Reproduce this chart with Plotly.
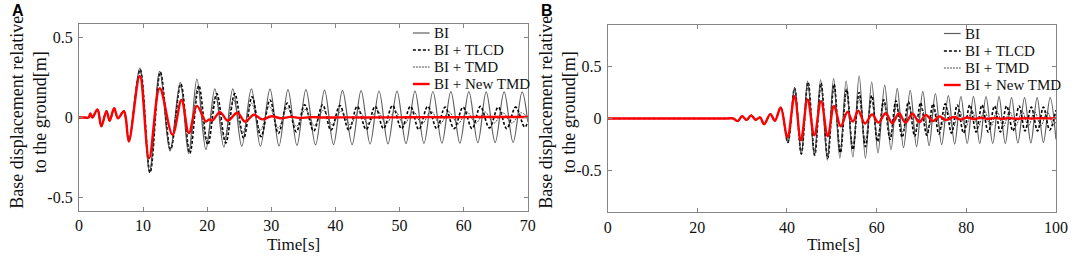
import plotly.graph_objects as go

W, H = 1084, 258

# ---------------- data (time [s], displacement [m]) ----------------
SERIES = ["BI", "BI + TLCD", "BI + TMD", "BI + New TMD"]

# Panel A
A_common = [(0, 0), (0.8, 0), (1.5, 0), (1.8, 0.025), (2.1, 0.0), (2.9, 0.05), (3.5, -0.055), (4.3, 0.04),
            (4.8, -0.02), (5.5, 0.058), (6.1, -0.005), (7.0, 0.04), (7.3, 0.0), (7.8, -0.15)]
A_bi = [(9.5, 0.31), (11.0, -0.345), (12.6, 0.29), (14.2, -0.21), (15.8, 0.22), (17.1, -0.225),
        (18.4, 0.24), (19.8, -0.2), (21.2, 0.18), (22.6, -0.185), (24.0, 0.18), (25.4, -0.18),
        (26.9, 0.18), (28.3, -0.18), (29.8, 0.178), (31.2, -0.178), (32.6, 0.175), (34.0, -0.175),
        (35.4, 0.175), (36.9, -0.172), (38.3, 0.172), (39.7, -0.17), (41.1, 0.17), (42.6, -0.17),
        (44.0, 0.168), (45.4, -0.166), (46.8, 0.166), (48.2, -0.165), (49.6, 0.165), (51.0, -0.163),
        (52.4, 0.165), (53.8, -0.162), (55.2, 0.163), (56.6, -0.16), (58.0, 0.162), (59.4, -0.16),
        (60.8, 0.162), (62.2, -0.158), (63.5, 0.16), (64.9, -0.157), (66.3, 0.16), (67.7, -0.156),
        (69.1, 0.16), (70.0, -0.03)]
A_tlcd = [(9.55, 0.30), (11.1, -0.345), (12.7, 0.285), (14.3, -0.2), (15.9, 0.21), (17.3, -0.225),
          (18.7, 0.2), (20.1, -0.17), (21.5, 0.15), (22.9, -0.16), (24.3, 0.15), (25.7, -0.13),
          (27.0, 0.13), (28.4, -0.12), (29.8, 0.11), (31.1, -0.1), (32.5, 0.09), (33.9, -0.09),
          (35.2, 0.08), (36.6, -0.085), (38.0, 0.08), (39.3, -0.08), (40.7, 0.075), (42.1, -0.08),
          (43.4, 0.07), (44.8, -0.075), (46.2, 0.07), (47.5, -0.07), (48.9, 0.075), (50.3, -0.07),
          (51.7, 0.07), (53.0, -0.075), (54.4, 0.07), (55.8, -0.07), (57.1, 0.065), (58.5, -0.07),
          (59.9, 0.065), (61.3, -0.07), (62.6, 0.07), (64.0, -0.065), (65.4, 0.065), (66.7, -0.07),
          (68.1, 0.065), (69.5, -0.06), (70.0, -0.03)]
A_tmd = [(9.5, 0.30), (11.05, -0.34), (12.65, 0.28), (14.25, -0.2), (15.85, 0.2), (17.2, -0.21),
         (18.55, 0.19), (19.9, -0.15), (21.3, 0.13), (22.7, -0.13), (24.1, 0.11), (25.5, -0.1),
         (26.9, 0.09), (28.3, -0.08), (29.7, 0.07), (31.1, -0.065), (32.5, 0.06), (33.9, -0.055),
         (35.3, 0.05), (36.7, -0.05), (38.1, 0.045), (39.5, -0.045), (40.9, 0.04), (42.3, -0.045),
         (43.7, 0.04), (45.1, -0.04), (46.5, 0.045), (47.9, -0.04), (49.3, 0.04), (50.7, -0.045),
         (52.1, 0.04), (53.5, -0.04), (54.9, 0.04), (56.3, -0.04), (57.7, 0.035), (59.1, -0.04),
         (60.5, 0.035), (61.9, -0.035), (63.3, 0.035), (64.7, -0.035), (66.1, 0.03), (67.5, -0.035),
         (68.9, 0.03), (70.0, 0.0)]
A_new = [(9.5, 0.26), (10.95, -0.255), (12.6, 0.183), (14.6, -0.108), (16.0, 0.11), (17.15, -0.098),
         (18.4, 0.073), (19.8, -0.025), (20.3, -0.012), (20.8, -0.02), (22.0, 0.034), (23.2, -0.02),
         (24.7, 0.03), (25.9, -0.026), (27.3, 0.017), (28.6, -0.012), (30.0, 0.008), (31.5, -0.005),
         (33.0, 0.004), (34.5, -0.003), (36.0, 0.002), (38.0, 0.0), (41.0, 0.001), (44.0, 0.0),
         (47.0, 0.001), (50.0, 0.001), (53.0, 0.002), (56.0, 0.002), (59.0, 0.002), (62.0, 0.003),
         (65.0, 0.003), (68.0, 0.003), (70.0, 0.003)]

# Panel B
B_common = [(0, 0), (4, 0), (8, 0), (12, 0), (16, 0), (20, 0), (24, 0), (26.5, 0), (28.0, 0),
            (29.0, -0.025), (30.0, 0.022), (31.0, -0.015), (32.0, 0.03), (33.0, -0.012), (34.0, 0.01),
            (34.9, -0.055), (36.3, 0.042), (37.3, -0.022), (38.6, 0.105)]
B_bi = [(40.2, -0.23), (41.7, 0.30), (43.2, -0.34), (44.6, 0.36), (46.1, -0.36), (47.5, 0.37),
        (49.0, -0.40), (50.4, 0.385), (51.8, -0.38), (53.2, 0.36), (54.7, -0.37), (56.1, 0.41),
        (57.5, -0.38), (58.9, 0.35), (60.3, -0.33), (61.8, 0.32), (63.2, -0.30), (64.6, 0.29),
        (66.0, -0.28), (67.5, 0.27), (68.9, -0.27), (70.3, 0.26), (71.7, -0.26), (73.1, 0.24),
        (74.5, -0.25), (76.0, 0.22), (77.4, -0.245), (78.8, 0.21), (80.2, -0.24), (81.6, 0.21),
        (83.0, -0.24), (84.4, 0.21), (85.9, -0.24), (87.3, 0.21), (88.7, -0.24), (90.1, 0.2),
        (91.5, -0.235), (93.0, 0.2), (94.4, -0.235), (95.8, 0.2), (97.2, -0.23), (98.7, 0.2),
        (100.0, -0.2)]
B_tlcd = [(40.2, -0.23), (41.7, 0.29), (43.2, -0.34), (44.7, 0.35), (46.2, -0.35), (47.6, 0.34),
          (49.1, -0.38), (50.5, 0.33), (51.9, -0.33), (53.3, 0.28), (54.7, -0.30), (56.1, 0.25),
          (57.5, -0.27), (58.9, 0.22), (60.2, -0.22), (61.6, 0.18), (63.0, -0.2), (64.3, 0.17),
          (65.7, -0.18), (67.1, 0.16), (68.5, -0.17), (69.8, 0.15), (71.2, -0.16), (72.6, 0.14),
          (73.9, -0.15), (75.3, 0.14), (76.7, -0.14), (78.0, 0.13), (79.4, -0.14), (80.8, 0.13),
          (82.2, -0.13), (83.5, 0.13), (84.9, -0.13), (86.3, 0.12), (87.6, -0.13), (89.0, 0.12),
          (90.4, -0.12), (91.8, 0.12), (93.1, -0.12), (94.5, 0.11), (95.9, -0.12), (97.2, 0.11),
          (98.6, -0.11), (100.0, 0.08)]
B_tmd = [(40.2, -0.23), (41.7, 0.29), (43.2, -0.33), (44.65, 0.34), (46.15, -0.34), (47.55, 0.33),
         (49.05, -0.36), (50.45, 0.3), (51.85, -0.3), (53.25, 0.25), (54.65, -0.26), (56.05, 0.2),
         (57.45, -0.21), (58.85, 0.17), (60.25, -0.17), (61.65, 0.14), (63.05, -0.15), (64.45, 0.12),
         (65.85, -0.13), (67.25, 0.11), (68.65, -0.12), (70.05, 0.1), (71.45, -0.11), (72.85, 0.09),
         (74.25, -0.1), (75.65, 0.09), (77.05, -0.09), (78.45, 0.08), (79.85, -0.09), (81.25, 0.08),
         (82.65, -0.08), (84.05, 0.08), (85.45, -0.08), (86.85, 0.07), (88.25, -0.08), (89.65, 0.07),
         (91.05, -0.07), (92.45, 0.07), (93.85, -0.07), (95.25, 0.065), (96.65, -0.07), (98.05, 0.065),
         (99.45, -0.06), (100.0, -0.03)]
B_new = [(40.1, -0.18), (41.7, 0.215), (43.1, -0.21), (44.6, 0.183), (46.1, -0.16), (47.6, 0.167),
         (49.1, -0.17), (50.5, 0.12), (52.0, -0.075), (53.5, 0.064), (54.7, -0.03), (55.9, 0.075),
         (57.4, -0.048), (59.0, 0.04), (60.4, -0.04), (62.0, 0.05), (63.5, -0.045), (65.0, 0.05),
         (66.4, -0.04), (68.0, 0.045), (69.5, -0.035), (71.0, 0.035), (72.5, -0.025), (74.0, 0.02),
         (75.5, -0.015), (77.2, 0.015), (78.7, -0.01), (80.2, 0.01), (81.8, -0.005), (83.3, 0.008),
         (84.8, -0.004), (86.3, 0.005), (87.8, -0.003), (89.5, 0.004), (91.2, -0.002), (93.0, 0.003),
         (94.8, 0.0), (96.5, 0.003), (98.2, 0.001), (100.0, 0.003)]

A_xticks = [0, 10, 20, 30, 40, 50, 60, 70]
B_xticks = [0, 20, 40, 60, 80, 100]
Y_ticks = [-0.5, 0, 0.5]
Y_ticktext = ["-0.5", "0", "0.5"]

# ---------------- styles ----------------
STYLE = {
    "BI": dict(color="#5f5f5f", width=1.2),
    "BI + TLCD": dict(color="#000000", width=1.6, dash="3px,2px"),
    "BI + TMD": dict(color="#4a4a4a", width=1.0, dash="2px,1px"),
    "BI + New TMD": dict(color="#ff0000", width=2.4),
}
SERIF = "Liberation Serif, Times New Roman, serif"

fig = go.Figure()

def add_panel(common, parts, xa, ya):
    for name, part in zip(SERIES, parts):
        pts = common + part
        fig.add_trace(go.Scatter(
            x=[p[0] for p in pts], y=[p[1] for p in pts], mode="lines",
            line=dict(shape="spline", smoothing=1.0, **STYLE[name]),
            name=name, showlegend=False, xaxis=xa, yaxis=ya, hoverinfo="skip"))

add_panel(A_common, [A_bi, A_tlcd, A_tmd, A_new], "x", "y")
add_panel(B_common, [B_bi, B_tlcd, B_tmd, B_new], "x2", "y2")

def px(x):
    return x / W

def py(y):
    return (H - y) / H

axis_common = dict(showline=True, linecolor="#858585", linewidth=1, mirror="ticks",
                   ticks="inside", ticklen=4, tickcolor="#858585", showgrid=False, zeroline=False,
                   tickfont=dict(family=SERIF, size=16, color="#111111"))

fig.update_layout(
    width=W, height=H, margin=dict(l=0, r=0, t=0, b=0),
    paper_bgcolor="white", plot_bgcolor="white", showlegend=False,
    xaxis=dict(domain=[px(76), px(531.7)], range=[0, 70], tickvals=A_xticks, anchor="y",
               ticklabelstandoff=0, **axis_common),
    yaxis=dict(domain=[py(211), py(24)], range=[-0.586, 0.586], tickvals=Y_ticks, ticktext=Y_ticktext,
               anchor="x", ticklabelstandoff=2, **axis_common),
    xaxis2=dict(domain=[px(612.7), px(1067.7)], range=[0, 100], tickvals=B_xticks, anchor="y2",
                ticklabelstandoff=0, **axis_common),
    yaxis2=dict(domain=[py(212.3), py(24.7)], range=[-0.9, 0.9], tickvals=Y_ticks, ticktext=Y_ticktext,
                anchor="x2", ticklabelstandoff=2, **axis_common),
)

annotations = []
shapes = []
# panel letters
for letter, x in (("A", 14), ("B", 551)):
    annotations.append(dict(text=f"<b>{letter}</b>", x=px(x), y=py(11), xref="paper", yref="paper",
                            showarrow=False, xanchor="center", yanchor="middle",
                            font=dict(family="Liberation Sans, Arial", size=16, color="black")))
# axis titles
for xc in (24, 561):
    annotations.append(dict(text="Base displacement relative<br>to the ground[m]", x=px(xc), y=py(112),
                            xref="paper", yref="paper", showarrow=False, textangle=-90,
                            xanchor="center", yanchor="middle",
                            font=dict(family=SERIF, size=18, color="#111111")))
for xc in (294, 842):
    annotations.append(dict(text="Time[s]", x=px(xc), y=py(244), xref="paper", yref="paper",
                            showarrow=False, xanchor="center", yanchor="middle",
                            font=dict(family=SERIF, size=17, color="#111111")))

# legends drawn inside each panel (top right)
for x0, x1, xt, rows in ((415, 432, 434, (33, 50, 67, 84)), (954, 971, 973, (33.5, 51, 68, 85))):
    for name, yr in zip(SERIES, rows):
        st = STYLE[name]
        shapes.append(dict(type="line", xref="paper", yref="paper", x0=px(x0), x1=px(x1),
                           y0=py(yr), y1=py(yr),
                           line=dict(color=st["color"], width=st["width"], dash=st.get("dash", "solid"))))
        annotations.append(dict(text=name, x=px(xt), y=py(yr), xref="paper", yref="paper",
                                showarrow=False, xanchor="left", yanchor="middle",
                                font=dict(family=SERIF, size=15, color="#111111")))

fig.update_layout(annotations=annotations, shapes=shapes)
fig.write_html("out.html", config={"displayModeBar": False},
               post_script="document.body.style.margin='0';document.body.style.padding='0';")
